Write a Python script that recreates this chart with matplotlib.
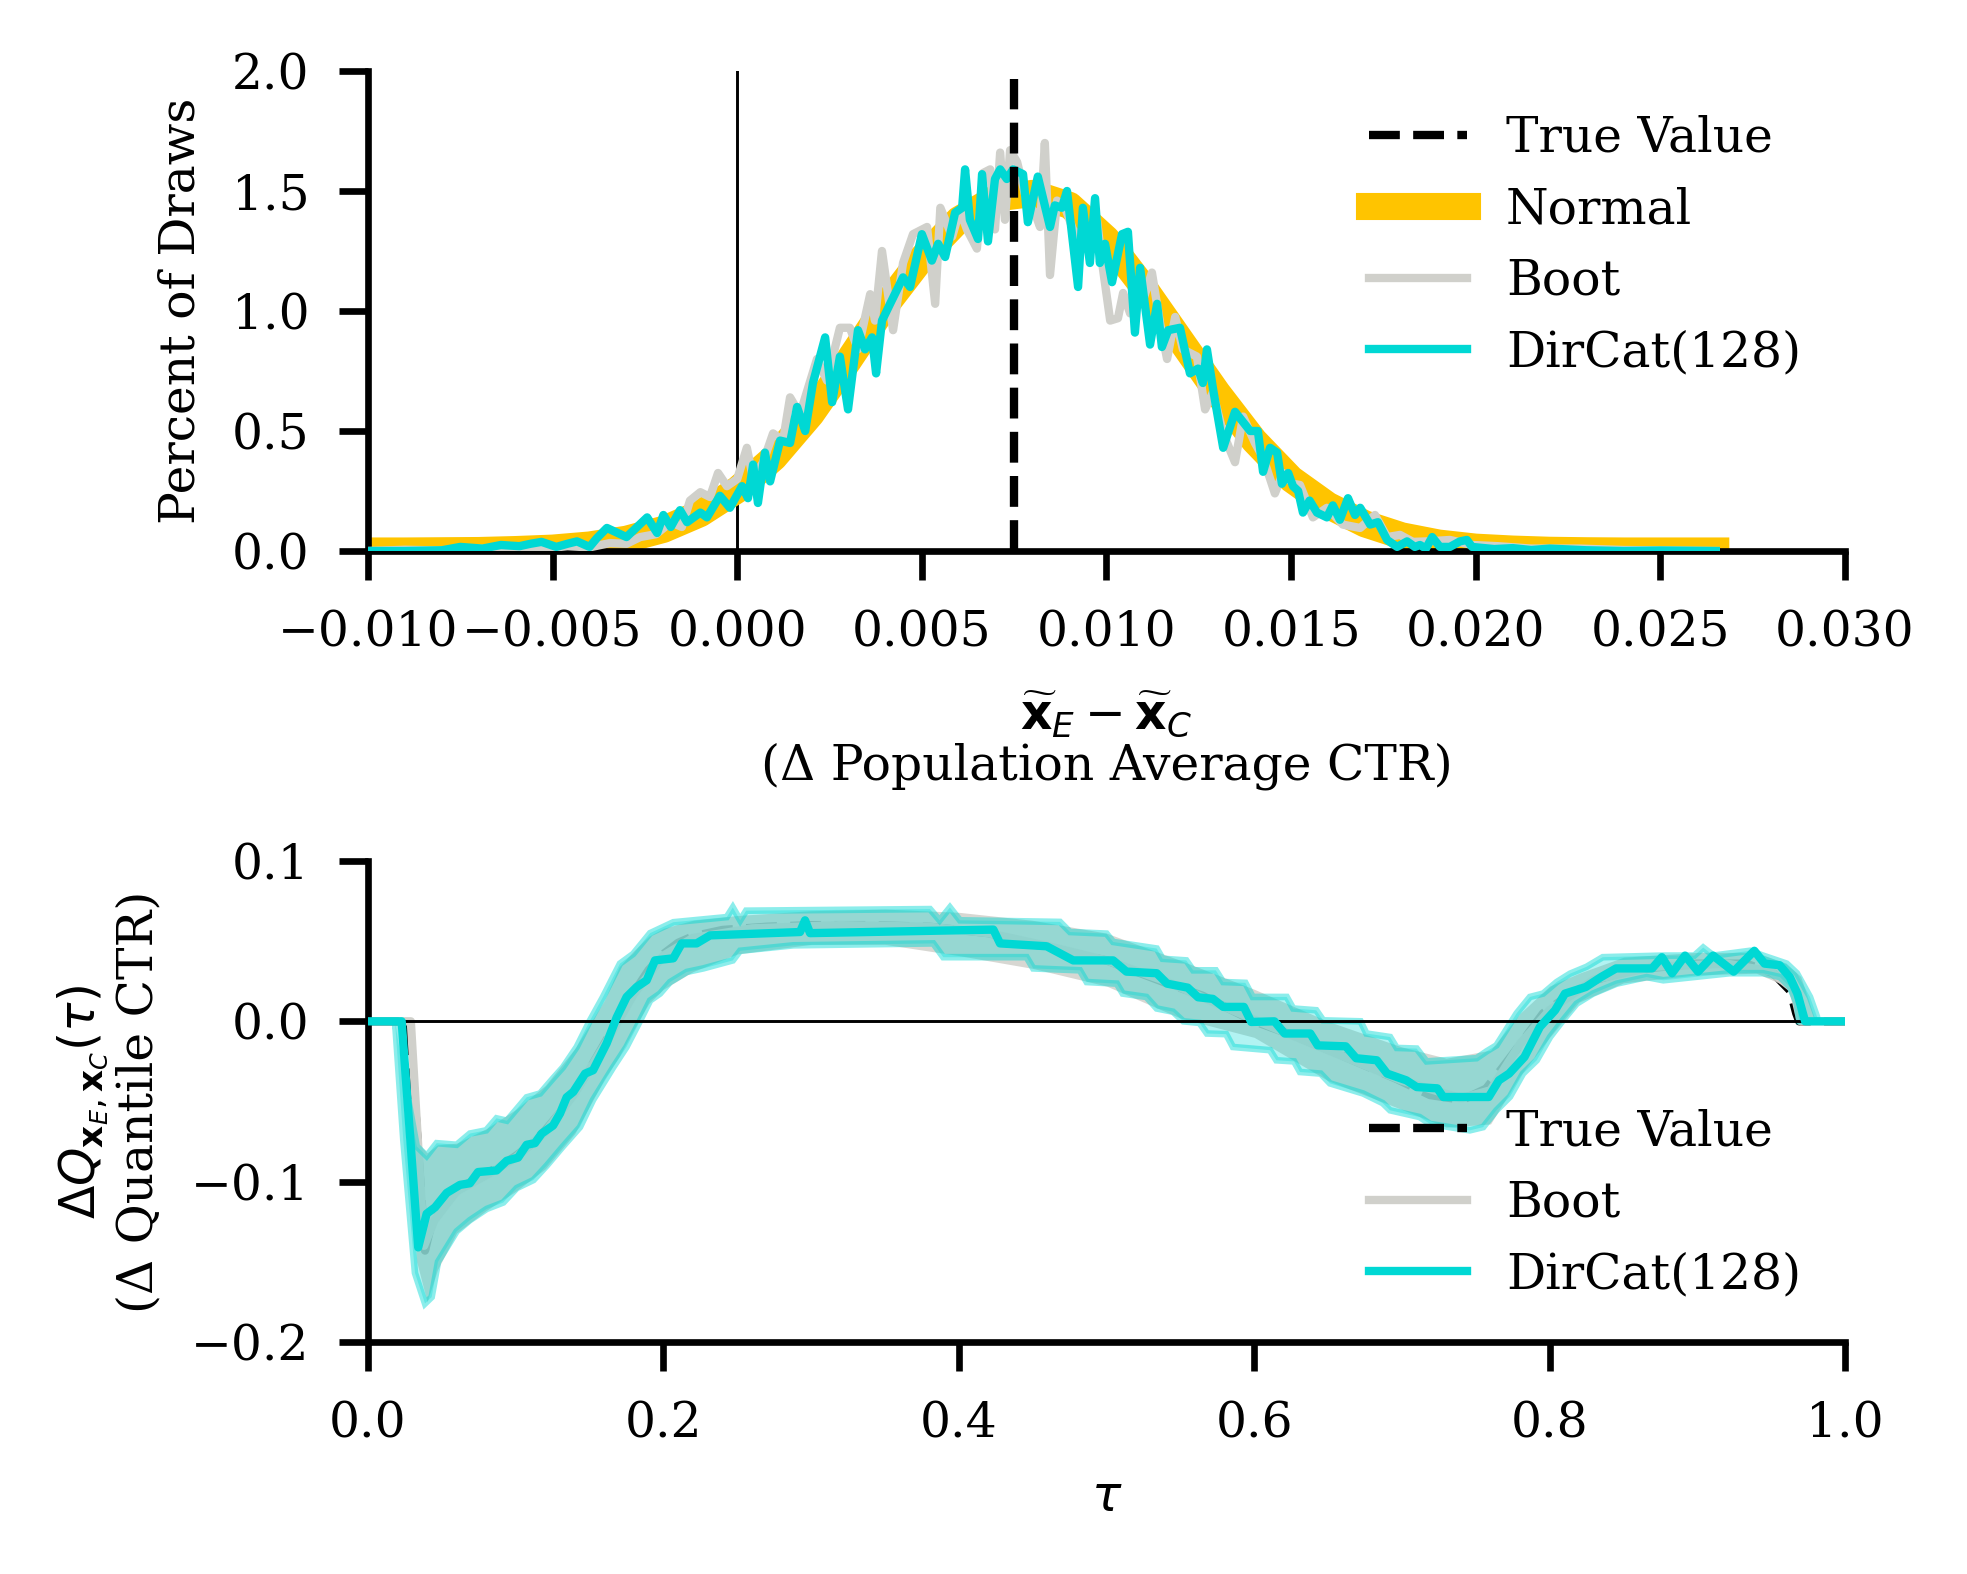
import numpy as np
import matplotlib
matplotlib.use("Agg")
import matplotlib.pyplot as plt

# 颜色
CYAN = "#00d8d4"
GREY = "#d0d0cb"
YELLOW = "#ffc400"
FS = 11.7

# ---------------- 上图：总体平均CTR差异的抽样分布 ----------------
TRUE_DIFF = 0.0075

# Normal 近似（读图所得）
normal_x = [-0.010, -0.009, -0.008, -0.007, -0.006, -0.005, -0.004, -0.003, -0.002, -0.001,
            0.000, 0.001, 0.002, 0.003, 0.004, 0.005, 0.006, 0.007, 0.008, 0.009,
            0.010, 0.011, 0.012, 0.013, 0.014, 0.015, 0.016, 0.017, 0.018, 0.019,
            0.020, 0.021, 0.022, 0.023, 0.024, 0.025, 0.0265]
normal_y = [0.000, 0.000, 0.001, 0.002, 0.006, 0.012, 0.025, 0.049, 0.090, 0.156,
            0.255, 0.390, 0.570, 0.790, 1.020, 1.220, 1.380, 1.470, 1.490, 1.440,
            1.300, 1.100, 0.880, 0.660, 0.460, 0.300, 0.190, 0.113, 0.063, 0.033,
            0.016, 0.008, 0.003, 0.001, 0.000, 0.000, 0.000]

# Boot 直方曲线 (x, 百分比)
boot_top = [
    (-0.0100, 0.000), (-0.0090, 0.005), (-0.0080, 0.002), (-0.0072, 0.012), (-0.0065, 0.005),
    (-0.0060, 0.015), (-0.0052, 0.010), (-0.0046, 0.020), (-0.0040, 0.015), (-0.00345, 0.033),
    (-0.0030, 0.030), (-0.00263, 0.058), (-0.0022, 0.070), (-0.0018, 0.120), (-0.0015, 0.100),
    (-0.00128, 0.210), (-0.0010, 0.245), (-0.00074, 0.225), (-0.00052, 0.325), (-0.00028, 0.270),
    (0.0000, 0.300), (0.00026, 0.430), (0.00043, 0.300), (0.0007, 0.370), (0.00097, 0.490),
    (0.00124, 0.460), (0.00143, 0.640), (0.0017, 0.570), (0.00216, 0.800), (0.00243, 0.710),
    (0.00278, 0.930), (0.00305, 0.930), (0.00327, 0.840), (0.0036, 1.070), (0.00373, 0.960),
    (0.00392, 1.250), (0.00422, 0.920), (0.00449, 1.200), (0.00476, 1.320), (0.00514, 1.350),
    (0.00536, 1.030), (0.0055, 1.430), (0.00582, 1.310), (0.00603, 1.420), (0.00622, 1.340),
    (0.00649, 1.260), (0.00666, 1.575), (0.00685, 1.590), (0.00698, 1.340), (0.00712, 1.660),
    (0.00725, 1.380), (0.00739, 1.670), (0.00758, 1.620), (0.00785, 1.450), (0.00806, 1.410),
    (0.0082, 1.350), (0.00833, 1.700), (0.00847, 1.150), (0.00866, 1.460), (0.00888, 1.430),
    (0.00909, 1.340), (0.00947, 1.270), (0.00974, 1.380), (0.0099, 1.180), (0.0101, 0.960),
    (0.01031, 0.970), (0.01045, 1.075), (0.01064, 0.990), (0.01099, 1.045), (0.01123, 1.160),
    (0.01145, 0.950), (0.01164, 0.800), (0.01186, 0.975), (0.01207, 0.840), (0.01245, 0.810),
    (0.01267, 0.590), (0.01288, 0.660), (0.01316, 0.490), (0.01348, 0.370), (0.0137, 0.560),
    (0.01402, 0.450), (0.01424, 0.390), (0.01456, 0.240), (0.01478, 0.325), (0.01505, 0.280),
    (0.01524, 0.275), (0.01559, 0.140), (0.01597, 0.180), (0.0164, 0.110), (0.01687, 0.096),
    (0.01727, 0.150), (0.0176, 0.058), (0.01795, 0.067), (0.0183, 0.038), (0.0187, 0.040),
    (0.0193, 0.046), (0.0199, 0.025), (0.0206, 0.020), (0.0215, 0.010), (0.0228, 0.010),
    (0.0240, 0.004), (0.0255, 0.002), (0.0265, 0.000)]

# DirCat(128) 直方曲线
dircat_top = [
    (-0.0100, 0.000), (-0.0090, 0.000), (-0.0080, 0.003), (-0.0075, 0.017), (-0.0069, 0.010),
    (-0.0064, 0.025), (-0.0059, 0.020), (-0.0056, 0.030), (-0.0053, 0.038), (-0.0049, 0.017),
    (-0.0046, 0.030), (-0.00434, 0.040), (-0.0040, 0.017), (-0.0038, 0.054), (-0.00353, 0.096),
    (-0.0030, 0.058), (-0.00244, 0.140), (-0.00217, 0.075), (-0.0020, 0.150), (-0.0018, 0.100),
    (-0.00155, 0.170), (-0.00136, 0.120), (-0.0010, 0.160), (-0.00082, 0.140), (-0.00047, 0.230),
    (-0.0002, 0.180), (0.00013, 0.270), (0.00029, 0.220), (0.00043, 0.360), (0.00056, 0.200),
    (0.00075, 0.410), (0.00089, 0.290), (0.00116, 0.460), (0.00143, 0.450), (0.00162, 0.600),
    (0.00184, 0.500), (0.00205, 0.700), (0.00238, 0.890), (0.00257, 0.620), (0.00278, 0.810),
    (0.0030, 0.590), (0.00327, 0.920), (0.00346, 0.840), (0.00365, 0.890), (0.00376, 0.740),
    (0.00392, 0.960), (0.00414, 1.030), (0.00449, 1.140), (0.00468, 1.100), (0.0050, 1.320),
    (0.00527, 1.210), (0.00544, 1.280), (0.00563, 1.225), (0.0059, 1.410), (0.00609, 1.430),
    (0.00617, 1.590), (0.0063, 1.380), (0.00652, 1.300), (0.00663, 1.570), (0.00679, 1.290),
    (0.00698, 1.550), (0.00712, 1.590), (0.0073, 1.550), (0.00747, 1.590), (0.00774, 1.570),
    (0.00787, 1.370), (0.00814, 1.560), (0.00847, 1.350), (0.0086, 1.440), (0.00879, 1.430),
    (0.00893, 1.500), (0.00923, 1.100), (0.00936, 1.430), (0.00955, 1.200), (0.00969, 1.470),
    (0.00982, 1.200), (0.00996, 1.280), (0.01015, 1.120), (0.01042, 1.320), (0.01058, 1.330),
    (0.01077, 0.910), (0.01091, 1.180), (0.01118, 0.860), (0.01137, 1.030), (0.0115, 0.850),
    (0.01167, 0.920), (0.01199, 0.930), (0.01226, 0.740), (0.01248, 0.760), (0.01261, 0.700),
    (0.01272, 0.840), (0.01288, 0.680), (0.01316, 0.430), (0.01348, 0.580), (0.01389, 0.500),
    (0.0141, 0.500), (0.01424, 0.330), (0.01443, 0.430), (0.01462, 0.410), (0.01475, 0.280),
    (0.01492, 0.325), (0.01505, 0.270), (0.01519, 0.250), (0.01532, 0.160), (0.0155, 0.210),
    (0.0157, 0.160), (0.01597, 0.140), (0.01613, 0.190), (0.01632, 0.130), (0.01654, 0.220),
    (0.01673, 0.150), (0.01687, 0.180), (0.01714, 0.110), (0.01735, 0.120), (0.0176, 0.046),
    (0.01787, 0.017), (0.01814, 0.040), (0.01835, 0.017), (0.01849, 0.025), (0.01865, 0.010),
    (0.01882, 0.058), (0.01903, 0.017), (0.0193, 0.017), (0.01957, 0.040), (0.01976, 0.046),
    (0.0199, 0.017), (0.0205, 0.008), (0.0210, 0.012), (0.0215, 0.004), (0.0220, 0.010),
    (0.0230, 0.003), (0.0240, 0.000), (0.0250, 0.002), (0.0265, 0.000)]

# ---------------- 下图：分位数差异 ----------------
true_q = [
    (0.0, 0.0), (0.028, 0.0), (0.0386, -0.143), (0.043, -0.126), (0.050, -0.113), (0.060, -0.105),
    (0.070, -0.100), (0.080, -0.095), (0.090, -0.090), (0.100, -0.084), (0.110, -0.077),
    (0.120, -0.068), (0.130, -0.057), (0.140, -0.044), (0.150, -0.030), (0.160, -0.014),
    (0.170, 0.002), (0.180, 0.018), (0.190, 0.032), (0.200, 0.042), (0.210, 0.049),
    (0.220, 0.053), (0.240, 0.057), (0.270, 0.059), (0.300, 0.060), (0.340, 0.060),
    (0.380, 0.059), (0.420, 0.055), (0.460, 0.046), (0.500, 0.038), (0.520, 0.031),
    (0.540, 0.024), (0.565, 0.016), (0.600, 0.000), (0.630, -0.010), (0.651, -0.018),
    (0.6965, -0.036), (0.719, -0.046), (0.741, -0.049), (0.757, -0.042), (0.768, -0.029),
    (0.782, -0.012), (0.7956, 0.005), (0.814, 0.017), (0.832, 0.026), (0.8545, 0.032),
    (0.8996, 0.036), (0.933, 0.036), (0.9514, 0.030), (0.963, 0.019), (0.967, 0.005),
    (0.969, 0.0), (1.0, 0.0)]

boot_q = [
    (0.0, 0.0), (0.029, 0.0), (0.038, -0.140), (0.045, -0.124), (0.060, -0.106), (0.080, -0.096),
    (0.100, -0.085), (0.120, -0.069), (0.140, -0.045), (0.160, -0.015), (0.180, 0.017),
    (0.200, 0.041), (0.220, 0.052), (0.260, 0.058), (0.320, 0.060), (0.380, 0.059),
    (0.420, 0.055), (0.460, 0.047), (0.500, 0.038), (0.540, 0.025), (0.600, 0.001),
    (0.650, -0.018), (0.700, -0.037), (0.740, -0.048), (0.760, -0.043), (0.780, -0.014),
    (0.800, 0.007), (0.830, 0.026), (0.870, 0.034), (0.920, 0.036), (0.950, 0.031),
    (0.965, 0.020), (0.970, 0.0), (1.0, 0.0)]

boot_q_tau = [0.0, 0.02, 0.025, 0.033, 0.04, 0.047, 0.06, 0.08, 0.10, 0.12, 0.14, 0.15, 0.16,
              0.17, 0.18, 0.19, 0.20, 0.22, 0.25, 0.30, 0.35, 0.40, 0.45, 0.50, 0.55, 0.60,
              0.65, 0.70, 0.73, 0.76, 0.78, 0.80, 0.82, 0.85, 0.90, 0.94, 0.96, 0.97, 0.98, 1.0]
boot_q_hi = [0.0, 0.0, -0.020, -0.075, -0.082, -0.077, -0.076, -0.067, -0.055, -0.040, -0.017,
             -0.002, 0.013, 0.034, 0.044, 0.053, 0.058, 0.063, 0.066, 0.069, 0.070, 0.068,
             0.063, 0.055, 0.038, 0.020, 0.000, -0.016, -0.023, -0.018, 0.005, 0.022, 0.030,
             0.040, 0.043, 0.043, 0.036, 0.028, 0.0, 0.0]
boot_q_lo = [0.0, 0.0, -0.050, -0.150, -0.175, -0.155, -0.132, -0.118, -0.106, -0.092, -0.070,
             -0.053, -0.036, -0.022, -0.005, 0.011, 0.020, 0.031, 0.042, 0.048, 0.048, 0.041,
             0.033, 0.022, 0.002, -0.010, -0.037, -0.055, -0.066, -0.064, -0.034, -0.010,
             0.012, 0.024, 0.029, 0.030, 0.022, 0.0, 0.0, 0.0]

dircat_q = [
    (0.0, 0.0), (0.0228, 0.0), (0.034, -0.141), (0.0397, -0.120), (0.0454, -0.116),
    (0.0533, -0.107), (0.0623, -0.102), (0.069, -0.101), (0.0745, -0.094), (0.0871, -0.093),
    (0.0939, -0.087), (0.1016, -0.085), (0.1074, -0.077), (0.113, -0.076), (0.1176, -0.070),
    (0.1253, -0.065), (0.130, -0.0575), (0.1345, -0.0474), (0.139, -0.044), (0.147, -0.0326),
    (0.1524, -0.0305), (0.1616, -0.0137), (0.1684, 0.0025), (0.1751, 0.0152), (0.1819, 0.0214),
    (0.1887, 0.0256), (0.1943, 0.038), (0.2067, 0.0393), (0.2124, 0.0486), (0.2225, 0.0486),
    (0.2316, 0.0536), (0.2925, 0.0557), (0.2959, 0.063), (0.2993, 0.055), (0.4234, 0.0572),
    (0.4279, 0.0486), (0.4595, 0.0468), (0.4775, 0.038), (0.5045, 0.038), (0.5135, 0.031),
    (0.534, 0.030), (0.541, 0.0235), (0.555, 0.021), (0.562, 0.015), (0.572, 0.014),
    (0.579, 0.009), (0.593, 0.009), (0.598, -0.0004), (0.6137, 0.0), (0.6206, -0.0076),
    (0.638, -0.0076), (0.643, -0.015), (0.662, -0.0156), (0.669, -0.023), (0.683, -0.0243),
    (0.690, -0.0326), (0.703, -0.0368), (0.710, -0.041), (0.724, -0.0418), (0.728, -0.0472),
    (0.7588, -0.0472), (0.7657, -0.0368), (0.7726, -0.0326), (0.783, -0.0222), (0.7934, -0.0035),
    (0.8037, 0.0069), (0.8104, 0.0173), (0.8245, 0.0214), (0.8348, 0.0276), (0.845, 0.033),
    (0.8694, 0.033), (0.876, 0.040), (0.8829, 0.030), (0.8917, 0.041), (0.9005, 0.031),
    (0.9107, 0.041), (0.9246, 0.031), (0.9386, 0.044), (0.9455, 0.036), (0.9557, 0.035),
    (0.9626, 0.0276), (0.9678, 0.0173), (0.973, 0.0), (1.0, 0.0)]

dircat_q_hi = [
    (0.0, 0.0), (0.0183, 0.0), (0.0235, -0.030), (0.033, -0.078), (0.0397, -0.084),
    (0.0465, -0.076), (0.060, -0.077), (0.069, -0.070), (0.080, -0.068), (0.087, -0.0605),
    (0.094, -0.062), (0.1074, -0.0474), (0.1165, -0.045), (0.1253, -0.0356), (0.132, -0.0287),
    (0.1413, -0.016), (0.150, 0.0), (0.159, 0.015), (0.1706, 0.036), (0.1795, 0.042),
    (0.191, 0.055), (0.2067, 0.0618), (0.2429, 0.065), (0.247, 0.071), (0.252, 0.063),
    (0.256, 0.069), (0.3805, 0.070), (0.387, 0.063), (0.394, 0.071), (0.4008, 0.063),
    (0.4685, 0.062), (0.4753, 0.0557), (0.500, 0.0547), (0.5045, 0.0495), (0.534, 0.0454),
    (0.538, 0.039), (0.554, 0.038), (0.5587, 0.0318), (0.574, 0.0318), (0.579, 0.0245),
    (0.594, 0.024), (0.599, 0.0152), (0.622, 0.0152), (0.6264, 0.008), (0.642, 0.0069),
    (0.6467, 0.0006), (0.672, 0.0), (0.676, -0.0076), (0.692, -0.0098), (0.6965, -0.0166),
    (0.710, -0.017), (0.7167, -0.025), (0.7506, -0.023), (0.7574, -0.0187), (0.764, -0.015),
    (0.7777, 0.005), (0.7867, 0.0152), (0.7956, 0.0173), (0.8048, 0.0245), (0.8138, 0.0297),
    (0.825, 0.034), (0.836, 0.040), (0.877, 0.041), (0.898, 0.041), (0.904, 0.046),
    (0.911, 0.041), (0.9357, 0.044), (0.9445, 0.041), (0.9605, 0.036), (0.9674, 0.030),
    (0.9763, 0.0152), (0.981, 0.003), (0.9815, 0.0), (1.0, 0.0)]

dircat_q_lo = [
    (0.0, 0.0), (0.0183, 0.0), (0.0239, -0.074), (0.0318, -0.157), (0.0386, -0.176),
    (0.0431, -0.172), (0.0474, -0.150), (0.060, -0.131), (0.069, -0.124), (0.0804, -0.117),
    (0.0916, -0.113), (0.1007, -0.104), (0.112, -0.099), (0.121, -0.090), (0.132, -0.078),
    (0.1435, -0.066), (0.1524, -0.049), (0.166, -0.0287), (0.175, -0.016), (0.184, 0.0),
    (0.191, 0.013), (0.1977, 0.0173), (0.2045, 0.0245), (0.2158, 0.0308), (0.227, 0.033),
    (0.247, 0.038), (0.2519, 0.044), (0.288, 0.0474), (0.3827, 0.0486), (0.3895, 0.040),
    (0.4459, 0.040), (0.4504, 0.033), (0.482, 0.0318), (0.4866, 0.0245), (0.507, 0.0235),
    (0.511, 0.0173), (0.527, 0.0152), (0.534, 0.008), (0.545, 0.006), (0.552, 0.0),
    (0.563, -0.001), (0.568, -0.0076), (0.581, -0.008), (0.5856, -0.016), (0.6107, -0.018),
    (0.615, -0.0243), (0.627, -0.025), (0.631, -0.0316), (0.645, -0.0326), (0.6513, -0.0387),
    (0.6737, -0.045), (0.687, -0.051), (0.692, -0.0555), (0.712, -0.0597), (0.719, -0.064),
    (0.7325, -0.066), (0.746, -0.068), (0.755, -0.066), (0.764, -0.0555), (0.7732, -0.047),
    (0.782, -0.0326), (0.7913, -0.0243), (0.8003, -0.0098), (0.809, 0.0006), (0.8183, 0.011),
    (0.8294, 0.0173), (0.8454, 0.0235), (0.8657, 0.0276), (0.877, 0.0256), (0.922, 0.030),
    (0.9445, 0.030), (0.956, 0.0276), (0.9627, 0.0214), (0.9674, 0.011), (0.969, 0.0),
    (1.0, 0.0)]


def xy(pairs):
    a = np.array(pairs, dtype=float)
    return a[:, 0], a[:, 1]


def style_axes(ax):
    """去掉上/右边框，设置刻度"""
    for s in ("top", "right"):
        ax.spines[s].set_visible(False)
    for s in ("left", "bottom"):
        ax.spines[s].set_linewidth(1.6)
    ax.tick_params(direction="out", length=7, width=1.6, pad=7, labelsize=FS)


def plot_top(ax):
    ax.axvline(0, color="black", lw=0.7, zorder=1)
    ax.axvline(TRUE_DIFF, ymax=0.983, color="black", ls="--", lw=2, label="True Value", zorder=5)
    ax.plot(normal_x, normal_y, color=YELLOW, lw=6.5, label="Normal", zorder=2)
    bx, by = xy(boot_top)
    ax.plot(bx, by, color=GREY, lw=2, label="Boot", zorder=3)
    dx, dy = xy(dircat_top)
    ax.plot(dx, dy, color=CYAN, lw=2, label="DirCat(128)", zorder=4)

    ax.set_xlim(-0.01, 0.03)
    ax.set_ylim(0, 2.0)
    ax.set_yticks([0, 0.5, 1.0, 1.5, 2.0])
    ax.set_ylabel("Percent of Draws", fontsize=FS, labelpad=6.5)
    ax.set_xlabel(r"$\widetilde{\mathbf{x}}_E - \widetilde{\mathbf{x}}_C$" + "\n(Δ Population Average CTR)",
                  fontsize=FS, labelpad=8, linespacing=1.1)
    style_axes(ax)
    ax.legend(loc="upper right", frameon=False, fontsize=FS)


def plot_bottom(ax):
    tx, ty = xy(true_q)
    ax.plot(tx, ty, color="black", ls="--", lw=2, label="True Value", zorder=1)

    # Boot 置信带
    ax.fill_between(boot_q_tau, boot_q_lo, boot_q_hi, color=GREY, alpha=0.85, lw=0, zorder=2)
    bx, by = xy(boot_q)
    ax.plot(bx, by, color=GREY, lw=2, label="Boot", zorder=2)

    # DirCat 置信带（上下边界各自读取，用多边形填充）
    hx, hy = xy(dircat_q_hi)
    lx, ly = xy(dircat_q_lo)
    ax.fill(np.concatenate([hx, lx[::-1]]), np.concatenate([hy, ly[::-1]]),
            facecolor=(0.0, 0.85, 0.83, 0.30), edgecolor=(0.0, 0.85, 0.83, 0.45),
            lw=1.6, zorder=3)

    ax.axhline(0, color="black", lw=0.7, zorder=4)
    dx, dy = xy(dircat_q)
    ax.plot(dx, dy, color=CYAN, lw=2, label="DirCat(128)", zorder=5)

    ax.set_xlim(0, 1)
    ax.set_ylim(-0.2, 0.1)
    ax.set_yticks([-0.2, -0.1, 0.0, 0.1])
    ax.set_xlabel(r"$\tau$", fontsize=FS, labelpad=6.5)
    ax.set_ylabel(r"$\Delta Q_{\mathbf{x}_E,\mathbf{x}_C}(\tau)$" + "\n(Δ Quantile CTR)",
                  fontsize=FS, labelpad=7, linespacing=1.1)
    style_axes(ax)
    ax.legend(loc="lower right", frameon=False, fontsize=FS)


def main():
    plt.rcParams["font.family"] = ["DejaVu Serif"]
    fig = plt.figure(figsize=(6.56, 5.2467), dpi=300)
    ax1 = fig.add_axes([0.18699, 0.64994, 0.75051, 0.30496])
    ax2 = fig.add_axes([0.18699, 0.14740, 0.75051, 0.30559])
    plot_top(ax1)
    plot_bottom(ax2)
    fig.savefig("out.png", dpi=300)


if __name__ == "__main__":
    main()
